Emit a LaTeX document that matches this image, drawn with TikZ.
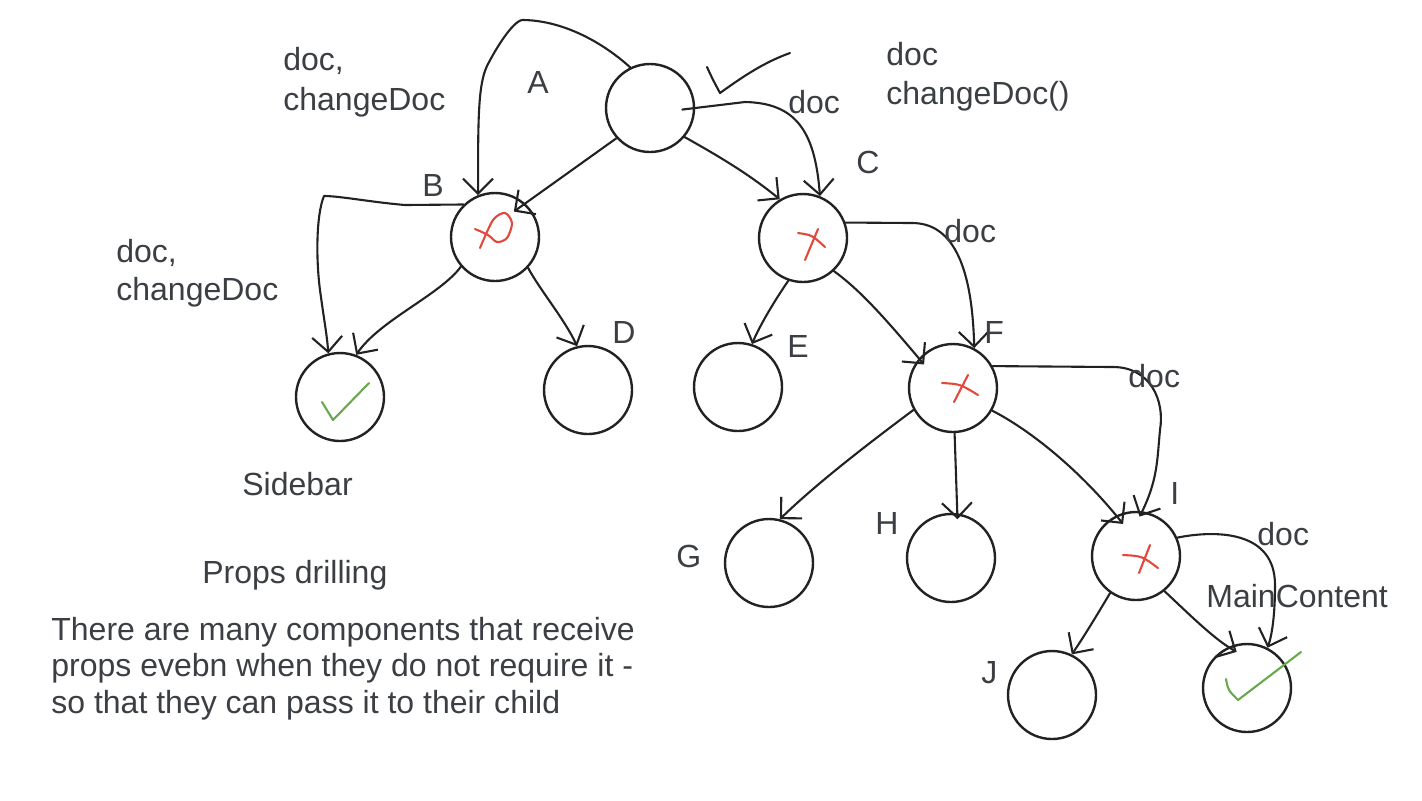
\documentclass[tikz,border=0pt]{standalone}
\usepackage{fontspec}
\setmainfont{Liberation Sans}
\usetikzlibrary{arrows.meta}
\definecolor{ink}{HTML}{222222}
\definecolor{txt}{HTML}{3B3E43}
\definecolor{redc}{HTML}{E2483C}
\definecolor{greenc}{HTML}{6AA84F}
\tikzset{
  nd/.style={circle, draw=ink, line width=1.2pt, minimum size=44pt, inner sep=0pt},
  lbl/.style={text=txt, font=\fontsize{16}{19}\selectfont, inner sep=0pt, anchor=base west},
  conn/.style={draw=ink, line width=1.05pt, line cap=round, line join=round,
    -{Straight Barb[length=7.5pt,width=15pt,line width=1.05pt]}},
  redmark/.style={draw=redc, line width=1.05pt, line cap=round, line join=round},
  greenmark/.style={draw=greenc, line width=1.05pt, line cap=round, line join=round},
  tick/.style={draw=ink, line width=1.05pt, line cap=round, line join=round},
}
\begin{document}
\begin{tikzpicture}[x=0.5pt, y=-0.5pt]
\useasboundingbox (0,0) rectangle (1422,800);

% circles
\node[nd] (A) at (650,108) {};
\node[nd] (B) at (495,237) {};
\node[nd] (S) at (340,397) {};
\node[nd] (D) at (588,390) {};
\node[nd] (C) at (803,238) {};
\node[nd] (E) at (738,387) {};
\node[nd] (F) at (953,388) {};
\node[nd] (G) at (769,563) {};
\node[nd] (H) at (951,558) {};
\node[nd] (I) at (1136,556) {};
\node[nd] (J) at (1052,695) {};
\node[nd] (M) at (1247,688) {};

% connectors
\draw[conn] (A.116) .. controls (600,40) and (560,20) .. (522,20)
  .. controls (512,22) and (495,50) .. (487,66)
  .. controls (478,85) and (478,120) .. (B.112);
\draw[conn, shorten >=-7pt] (A.222) -- (B.48);
\draw[conn] (A.-40) .. controls (722,158) and (750,175) .. (C.121);
\draw[conn, shorten <=-6.5pt] (A.0) -- (745,102) .. controls (795,103) and (815,130) .. (C.68);

\draw[conn] (B.134) -- (405,205) .. controls (370,202) and (340,196) .. (324,196)
  .. controls (316,215) and (316,260) .. (320,290)
  .. controls (324,320) and (327,335) .. (S.105);
\draw[conn] (B.221) .. controls (440,295) and (380,320) .. (S.69);
\draw[conn] (B.-43) .. controls (540,290) and (565,320) .. (D.104);

\draw[conn] (C.251) .. controls (775,300) and (760,325) .. (E.72);
\draw[conn, shorten >=-4pt] (C.-47) .. controls (860,290) and (885,318) .. (F.139);
\draw[conn] (C.20) -- (912,223) .. controls (950,223) and (972,260) .. (F.62);

\draw[conn] (F.209) .. controls (880,435) and (820,480) .. (G.76);
\draw[conn, shorten >=-3pt] (F.272) -- (H.82);
\draw[conn, shorten >=-5.5pt] (F.-30) .. controls (1030,430) and (1080,470) .. (I.116);
\draw[conn, shorten >=-3pt] (F.29) -- (1113,367) .. controls (1150,367) and (1165,400) .. (1160,430)
  .. controls (1157,460) and (1158,480) .. (I.82);

\draw[conn] (I.235) .. controls (1100,610) and (1085,635) .. (J.64);
\draw[conn, shorten >=-5pt] (I.-51) .. controls (1190,615) and (1215,640) .. (M.115);
\draw[conn] (I.24) .. controls (1215,530) and (1275,530) .. (1275,585)
  .. controls (1275,615) and (1272,635) .. (M.63);

% marks
\draw[tick] (707,67) .. controls (712,78) .. (720,93) .. controls (745,75) and (765,62) .. (790,53);
\draw[redmark] plot[smooth] coordinates {(480,248) (493,220) (505,213) (512,223) (507,238) (497,242) (488,235) (475,229)};
\draw[redmark] (798,233) .. controls (812,235) .. (825,247);
\draw[redmark] (818,229) -- (805,260);
\draw[redmark] (942,383) .. controls (960,384) .. (978,395);
\draw[redmark] (968,375) -- (954,402);
\draw[redmark] (1123,555) .. controls (1142,556) .. (1158,568);
\draw[redmark] (1150,545) -- (1139,573);
\draw[greenmark] (322,402) -- (333,420) -- (369,383);
\draw[greenmark] (1226,679) .. controls (1228,690) .. (1238,700) -- (1301,652);

% labels
\node[lbl] (tA) at (527,93) {A};
\node[lbl] (tB) at (422,196) {B};
\node[lbl] (tC) at (856,173) {C};
\node[lbl] (tD) at (612,343) {D};
\node[lbl] (tE) at (787,357) {E};
\node[lbl] (tF) at (984,343) {F};
\node[lbl] (tG) at (676,567) {G};
\node[lbl] (tH) at (875,534) {H};
\node[lbl] (tI) at (1170,504) {I};
\node[lbl] (tJ) at (981,683) {J};
\node[lbl] (d1) at (788,113) {doc};
\node[lbl] (d2) at (944,242) {doc};
\node[lbl] (d3) at (1128,387) {doc};
\node[lbl] (d4) at (1257,545) {doc};
\node[lbl] (mc) at (1206,607) {MainContent};
\node[lbl] (sb) at (242,495) {Sidebar};
\node[lbl] (pd) at (202,583) {Props drilling};
\node[lbl, align=left, font=\fontsize{16}{20}\selectfont] (t1) at (283,110) {doc,\\changeDoc};
\node[lbl, align=left, font=\fontsize{16}{19.5}\selectfont] (t2) at (886,104) {doc\\changeDoc()};
\node[lbl, align=left, font=\fontsize{16}{19}\selectfont] (t3) at (116,300) {doc,\\changeDoc};
\node[lbl, align=left, font=\fontsize{16}{18.25}\selectfont] (t4) at (51,713) {There are many components that receive\\props evebn when they do not require it -\\so that they can pass it to their child};
\end{tikzpicture}
\end{document}
